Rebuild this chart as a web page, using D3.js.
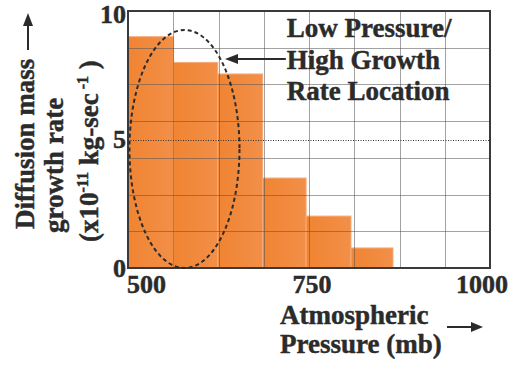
<!DOCTYPE html>
<html>
<head>
<meta charset="utf-8">
<script src="https://cdn.jsdelivr.net/npm/d3@7"></script>
<style>
  html, body { margin: 0; padding: 0; background: #fff; }
  svg { display: block; }
  text { font-family: "Liberation Serif", "Times New Roman", serif; font-weight: bold; fill: #2b2b2b; stroke: #2b2b2b; stroke-width: 0.45px; }
</style>
</head>
<body>
<svg id="chart" width="521" height="365"></svg>
<script>
// Histogram of diffusion mass growth rate versus atmospheric pressure
const binEdges = [500, 563, 624, 686, 746, 808, 866];      // mb
const growthRates = [9.0, 8.0, 7.55, 3.5, 2.02, 0.78];     // x10^-11 kg/s
const xTickValues = [500, 750, 1000];
const yTickValues = [0, 5, 10];
const xGridStep = 62.5;
const yGridStep = 10 / 7;
const refLevel = 5;

// Region of low pressure / high growth (centre and half-axes in data units)
const regionCenter = [578, 4.63];
const regionRadii = [76, 4.63];
const calloutFrom = [718, 8.13];
const calloutTo = [634, 8.13];
const calloutLines = ["Low Pressure/", "High Growth", "Rate Location"];

const svg = d3.select("#chart");
const plot = { left: 128, right: 490, top: 11, bottom: 268 };

const x = d3.scaleLinear().domain([500, 1000]).range([plot.left, plot.right]);
const y = d3.scaleLinear().domain([0, 10]).range([plot.bottom, plot.top]);

const bins = growthRates.map((v, i) => ({ x0: binEdges[i], x1: binEdges[i + 1], v }));

// Bar gradient: slightly lighter towards the right edge
const defs = svg.append("defs");
const grad = defs.append("linearGradient").attr("id", "barFill")
  .attr("x1", "0%").attr("x2", "100%").attr("y1", "0%").attr("y2", "0%");
grad.append("stop").attr("offset", "0%").attr("stop-color", "#f08432");
grad.append("stop").attr("offset", "100%").attr("stop-color", "#f28f48");

svg.append("g").selectAll("rect").data(bins).join("rect")
  .attr("x", d => x(d.x0))
  .attr("width", d => x(d.x1) - x(d.x0))
  .attr("y", d => y(d.v))
  .attr("height", d => y(0) - y(d.v))
  .attr("fill", "url(#barFill)")
  .attr("stroke", "#f6ab78")
  .attr("stroke-width", 1);

// Grid over the bars
const grid = svg.append("g").attr("stroke", "#555").attr("stroke-opacity", 0.55).attr("stroke-width", 1);
const xGrid = d3.range(500 + xGridStep, 1000 - 1e-6, xGridStep);
const yGrid = d3.range(1, 7).map(i => i * yGridStep);
grid.selectAll(".vx").data(xGrid).join("line")
  .attr("x1", d => Math.round(x(d)) + 0.5).attr("x2", d => Math.round(x(d)) + 0.5)
  .attr("y1", y(10)).attr("y2", y(0));
grid.selectAll(".hy").data(yGrid).join("line")
  .attr("x1", x(500)).attr("x2", x(1000))
  .attr("y1", d => Math.round(y(d)) + 0.5).attr("y2", d => Math.round(y(d)) + 0.5);

// Dotted reference line
svg.append("line")
  .attr("x1", x(500)).attr("x2", x(1000))
  .attr("y1", Math.round(y(refLevel)) + 0.5).attr("y2", Math.round(y(refLevel)) + 0.5)
  .attr("stroke", "#333").attr("stroke-width", 1).attr("stroke-dasharray", "1,1.5");

// Frame
svg.append("rect")
  .attr("x", x(500)).attr("y", y(10))
  .attr("width", x(1000) - x(500)).attr("height", y(0) - y(10))
  .attr("fill", "none").attr("stroke", "#3a3a3a").attr("stroke-width", 2);

// Dashed ellipse marking the region
svg.append("ellipse")
  .attr("cx", x(regionCenter[0])).attr("cy", y(regionCenter[1]))
  .attr("rx", x(regionCenter[0] + regionRadii[0]) - x(regionCenter[0]))
  .attr("ry", y(0) - y(regionRadii[1]))
  .attr("fill", "none").attr("stroke", "#2b2b2b").attr("stroke-width", 2)
  .attr("stroke-dasharray", "4,3");

// Callout arrow
const ax0 = x(calloutFrom[0]), ax1 = x(calloutTo[0]), ay = y(calloutTo[1]);
svg.append("line").attr("x1", ax0).attr("x2", ax1 + 10).attr("y1", ay).attr("y2", ay)
  .attr("stroke", "#2b2b2b").attr("stroke-width", 2);
svg.append("path")
  .attr("d", `M${ax1},${ay} L${ax1 + 13},${ay - 5} L${ax1 + 13},${ay + 5} Z`)
  .attr("fill", "#2b2b2b");

// Callout text
svg.append("g").selectAll("text").data(calloutLines).join("text")
  .attr("x", ax0 + 1)
  .attr("y", (d, i) => 37 + i * 31.5)
  .attr("font-size", 27)
  .text(d => d);

// Y tick labels
svg.append("g").selectAll("text").data(yTickValues).join("text")
  .attr("x", x(500) - 2)
  .attr("y", d => Math.max(y(d), 14))
  .attr("text-anchor", "end")
  .attr("dominant-baseline", "central")
  .attr("font-size", 26)
  .text(d => d);

// X tick labels
const xAnchor = { 500: ["start", -1], 750: ["middle", 3], 1000: ["end", 18] };
svg.append("g").selectAll("text").data(xTickValues).join("text")
  .attr("x", d => x(d) + xAnchor[d][1])
  .attr("y", 293)
  .attr("text-anchor", d => xAnchor[d][0])
  .attr("font-size", 26)
  .text(d => d);

// X axis title with arrow
const xt = svg.append("g");
xt.append("text").attr("x", 280).attr("y", 324).attr("font-size", 27).text("Atmospheric");
xt.append("text").attr("x", 280).attr("y", 353).attr("font-size", 27).text("Pressure (mb)");
xt.append("line").attr("x1", 447).attr("x2", 474).attr("y1", 327).attr("y2", 327)
  .attr("stroke", "#2b2b2b").attr("stroke-width", 2);
xt.append("path").attr("d", "M483,327 L471,322 L471,332 Z").attr("fill", "#2b2b2b");

// Y axis title (rotated) with arrow
const yt = svg.append("g");
yt.append("text").attr("transform", "translate(34,229) rotate(-90)").attr("font-size", 27)
  .text("Diffusion mass");
yt.append("text").attr("transform", "translate(63,233) rotate(-90)").attr("font-size", 27)
  .text("growth rate");
const t3 = yt.append("text").attr("transform", "translate(98,242) rotate(-90)").attr("font-size", 27);
t3.append("tspan").text("(x10");
t3.append("tspan").attr("font-size", 16).attr("dy", -10).text("-11");
t3.append("tspan").attr("dy", 10).text(" kg-sec");
t3.append("tspan").attr("font-size", 16).attr("dy", -10).text(" -1");
t3.append("tspan").attr("dy", 10).text(" )");
yt.append("line").attr("x1", 28).attr("x2", 28).attr("y1", 50).attr("y2", 22)
  .attr("stroke", "#2b2b2b").attr("stroke-width", 2);
yt.append("path").attr("d", "M28,13 L23,26 L33,26 Z").attr("fill", "#2b2b2b");
</script>
</body>
</html>
